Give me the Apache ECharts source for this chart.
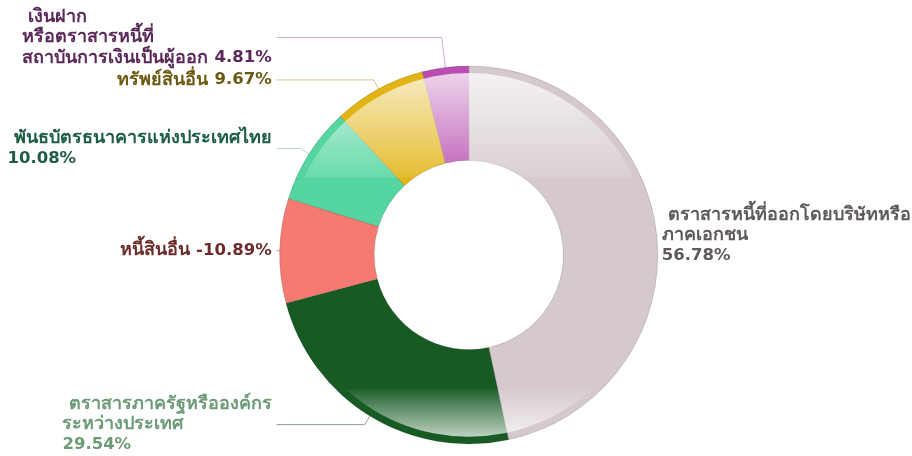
<!DOCTYPE html>
<html>
<head>
    <meta charset="UTF-8" />
    <title></title>
    <script src="https://cdn.jsdelivr.net/npm/echarts@6/dist/echarts.min.js"></script>
</head>
<body style="margin:0;background:#fff;">
    <div id="main" style="width:912px;height:456px;"></div>
    <script>
        /* ข้อมูล (clockwise from 12 o'clock) */
        var names = [
            ' ตราสารหนี้ที่ออกโดยบริษัทหรือ\nภาคเอกชน',
            ' ตราสารภาครัฐหรือองค์กร\nระหว่างประเทศ',
            'หนี้สินอื่น',
            ' พันธบัตรธนาคารแห่งประเทศไทย',
            'ทรัพย์สินอื่น',
            ' เงินฝาก\nหรือตราสารหนี้ที่\nสถาบันการเงินเป็นผู้ออก'
        ];
        var values = [56.78, 29.54, -10.89, 10.08, 9.67, 4.81];
        var valueOnNewLine = [true, true, false, true, false, false];

        var colors = ['#d5c9cd', '#175a24', '#f47a72', '#55d6a0', '#e2b416', '#b94db0'];
        var labelColors = ['#5f5a5c', '#6e9b77', '#6b2d2a', '#1d5d44', '#6b5a12', '#5b2959'];
        var lineColors = ['#a9a1a4', '#8c9c8e', '#cf9a97', '#b3d9c9', '#d3c28e', '#d0a9cf'];
        var lineLen = [5, 19, 8, 19, 19, 39];

        var app = echarts.init(document.getElementById('main'));
        var center = ['51.4%', '55.9%'];

        /* ชื่อ = {t|}, ตัวเลข = {n|} */
        function labelText(p){
            var i = p.dataIndex;
            var lines = names[i].split('\n').map(function(s){ return '{t|' + s + '}'; });
            var v = '{n|' + values[i].toFixed(2) + '%}';
            if(valueOnNewLine[i]){
                lines.push(v);
            }
            else{
                lines[lines.length - 1] = lines[lines.length - 1].replace(/}$/, ' }') + v;
            }
            return lines.join('\n');
        }

        var baseData = [], labelData = [];
        for(var i = 0; i < values.length; i++){
            baseData.push({name: names[i], value: Math.abs(values[i]), itemStyle: {color: colors[i]}});
            labelData.push({
                name: names[i],
                value: Math.abs(values[i]),
                label: {color: labelColors[i]},
                labelLine: {length: lineLen[i], length2: 4, lineStyle: {color: lineColors[i]}}
            });
        }

        var option = {
            animation: false,
            series: [
                {
                    type: 'pie',
                    center: center,
                    radius: ['41.5%', '82.9%'],
                    silent: true,
                    label: {show: false},
                    labelLine: {show: false},
                    itemStyle: {borderColor: 'rgba(0,0,0,0.14)', borderWidth: 1},
                    data: baseData
                },
                {
                    /* gloss */
                    type: 'pie',
                    center: center,
                    radius: ['41.5%', '79.8%'],
                    silent: true,
                    label: {show: false},
                    labelLine: {show: false},
                    itemStyle: {
                        color: new echarts.graphic.LinearGradient(0, 0, 0, 1, [
                            {offset: 0, color: 'rgba(255,255,255,0.75)'},
                            {offset: 0.285, color: 'rgba(255,255,255,0.13)'},
                            {offset: 0.29, color: 'rgba(255,255,255,0)'},
                            {offset: 0.868, color: 'rgba(255,255,255,0)'},
                            {offset: 0.872, color: 'rgba(255,255,255,0.06)'},
                            {offset: 1, color: 'rgba(255,255,255,0.72)'}
                        ])
                    },
                    data: [{value: 1}]
                },
                {
                    type: 'pie',
                    center: center,
                    radius: ['41.5%', '79%'],
                    silent: true,
                    itemStyle: {color: 'rgba(0,0,0,0)', borderWidth: 0},
                    label: {
                        show: true,
                        position: 'outer',
                        alignTo: 'labelLine',
                        bleedMargin: -80,
                        distanceToLabelLine: 5,
                        fontFamily: 'DejaVu Sans',
                        fontWeight: 'bold',
                        fontSize: 16,
                        formatter: labelText,
                        rich: {
                            t: {align: 'left', fontFamily: 'DejaVu Sans', fontWeight: 'bold', fontSize: 18, lineHeight: 20.5},
                            n: {align: 'left', fontFamily: 'DejaVu Sans', fontWeight: 'bold', fontSize: 16.5, lineHeight: 20.5}
                        }
                    },
                    labelLine: {show: true, lineStyle: {width: 1}},
                    data: labelData
                }
            ]
        };
        app.setOption(option);
    </script>
</body>
</html>
